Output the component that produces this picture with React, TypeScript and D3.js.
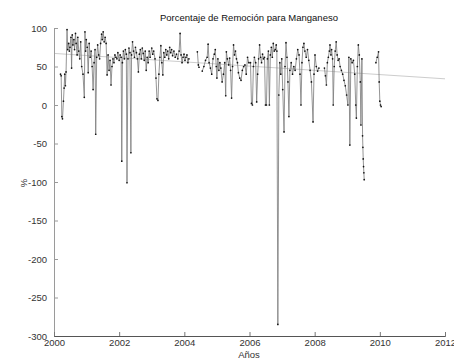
import * as d3 from "d3";
import { useEffect, useRef } from "react";

// decimal year of each sample, NaN-style gaps are null values
const years = [
  2000.20, 2000.22, 2000.24, 2000.26, 2000.29, 2000.31, 2000.33, 2000.35, 2000.37, 2000.40,
  2000.42, 2000.45, 2000.47, 2000.49, 2000.52, 2000.54, 2000.56, 2000.58, 2000.61, 2000.63,
  2000.66, 2000.68, 2000.71, 2000.73, 2000.76, 2000.79, 2000.82, 2000.85, 2000.89, 2000.93,
  2000.95, 2000.97, 2000.99,
  2001.02, 2001.05, 2001.08, 2001.11, 2001.14, 2001.17, 2001.20, 2001.23, 2001.26, 2001.28,
  2001.31, 2001.34, 2001.37, 2001.40, 2001.43, 2001.46, 2001.48, 2001.51, 2001.54, 2001.57,
  2001.60, 2001.63, 2001.66, 2001.69, 2001.72, 2001.75, 2001.78, 2001.81, 2001.84, 2001.87,
  2001.90, 2001.93, 2001.96,
  2002.00, 2002.03, 2002.06, 2002.08, 2002.10, 2002.13, 2002.16, 2002.19, 2002.22, 2002.24,
  2002.27, 2002.30, 2002.33, 2002.36, 2002.38, 2002.41, 2002.44, 2002.47, 2002.50, 2002.53,
  2002.56, 2002.59, 2002.62, 2002.65, 2002.68, 2002.71, 2002.74, 2002.77, 2002.80, 2002.83,
  2002.86, 2002.89, 2002.92, 2002.95,
  2003.00, 2003.03, 2003.06, 2003.10, 2003.13, 2003.16, 2003.19, 2003.22, 2003.25, 2003.28,
  2003.31, 2003.34, 2003.37, 2003.40, 2003.43, 2003.46, 2003.49, 2003.52, 2003.55, 2003.58,
  2003.61, 2003.64, 2003.68, 2003.72, 2003.76, 2003.80, 2003.84, 2003.87, 2003.90, 2003.93,
  2003.96, 2003.99,
  2004.02, 2004.05, 2004.08, 2004.11, 2004.14, 2004.27, 2004.40, 2004.43, 2004.45, 2004.50,
  2004.55, 2004.60, 2004.65, 2004.70, 2004.73, 2004.76, 2004.80, 2004.84, 2004.88, 2004.92,
  2004.95, 2004.98,
  2005.00, 2005.03, 2005.06, 2005.09, 2005.12, 2005.16, 2005.20, 2005.24, 2005.27, 2005.29,
  2005.32, 2005.36, 2005.39, 2005.42, 2005.45, 2005.48, 2005.51, 2005.54, 2005.57, 2005.60,
  2005.63, 2005.66, 2005.70, 2005.74, 2005.78, 2005.82, 2005.86, 2005.90, 2005.94, 2005.98,
  2006.03, 2006.06, 2006.09, 2006.12, 2006.15, 2006.19, 2006.22, 2006.25, 2006.28, 2006.31,
  2006.34, 2006.37, 2006.40, 2006.43, 2006.46, 2006.49, 2006.52, 2006.55, 2006.58, 2006.61,
  2006.64, 2006.67, 2006.70, 2006.73, 2006.76, 2006.79, 2006.82, 2006.84, 2006.87, 2006.90,
  2006.93, 2006.96, 2006.99,
  2007.02, 2007.06, 2007.09, 2007.12, 2007.15, 2007.18, 2007.21, 2007.24, 2007.28, 2007.32,
  2007.36, 2007.40, 2007.44, 2007.48, 2007.52, 2007.55, 2007.58, 2007.61, 2007.64, 2007.67,
  2007.70, 2007.74, 2007.78, 2007.82, 2007.86, 2007.90, 2007.95, 2007.98,
  2008.01, 2008.05, 2008.09, 2008.13, 2008.20, 2008.30, 2008.33, 2008.36, 2008.39, 2008.42,
  2008.45, 2008.47, 2008.50, 2008.52, 2008.55, 2008.57, 2008.60, 2008.63, 2008.66, 2008.69,
  2008.72, 2008.75, 2008.78, 2008.82, 2008.86, 2008.90, 2008.94, 2008.98,
  2009.02, 2009.05, 2009.08, 2009.11, 2009.15, 2009.19, 2009.23, 2009.26, 2009.28, 2009.31,
  2009.34, 2009.37, 2009.40, 2009.42, 2009.45, 2009.47, 2009.48, 2009.49, 2009.50, 2009.51,
  2009.52, 2009.70, 2009.88, 2009.92, 2009.96, 2009.98,
  2010.00, 2010.02, 2010.04,
];

const removal: (number | null)[] = [
  40, 38, -15, -18, 5, 22, 40, 25, 43, 98,
  72, 80, 70, 75, 88, 48, 91, 78, 85, 72,
  93, 80, 65, 88, 70, 60, 82, 50, 40, 10,
  95, 70, 85,
  75, 42, 80, 62, 70, 50, 20, 55, 72, -38,
  62, 78, 65, 60, 80, 92, 85, 95, 82, 88,
  80, 39, 65, 45, 58, 26, 50, 60, 55, 65,
  62, 60, 68,
  58, 65, 62, -73, 55, 70, 60, 72, 66, -101,
  60, 74, 68, -62, 65, 82, 70, 62, 75, 68,
  60, 43, 66, 72, 60, 74, 67, 58, 70, 45,
  62, 55, 70, 62,
  74, 66, 70, 60, 35, 8, 6, 40, 62, 77,
  55, 39, 68, 62, 72, 65, 70, 60, 75, 68,
  72, 64, 70, 62, 66, 60, 70, 93, 65, 55,
  62, 66,
  58, 62, 65, 55, 60, null, 69, 52, 49, null,
  44, 50, 58, 62, 79, 55, 48, 40, 60, 66,
  72, 50,
  35, 60, 45, 55, 48, 30, 40, 55, 12, 69,
  60, 52, 61, 45, 9, 50, 78, 65, 70, 60,
  55, 42, 35, 32, 45, 50, 52, 40, 62, 55,
  55, 2, 0, 50, 62, 55, 4, 40, 60, 78,
  62, 55, 66, 60, 62, 0, 0, 60, 70, 0,
  65, 75, 62, 80, 70, 72, 78, 70, -285, 13,
  55, 40, 60,
  20, -35, 50, 81, 62, 30, -15, 45, 55, 40,
  50, 45, 60, 72, 65, 40, 0, 55, 75, 80,
  70, 62, 72, 58, 45, 30, -22, 40,
  65, 50, 44, 48, null, 48, 38, 26, 55, 62,
  70, 78, 65, 72, 60, 0, 50, 70, 82, 65,
  58, 60, 50, 45, 40, 32, 25, 13,
  0, 62, -52, 60, 55, 58, 40, 0, -17, 50,
  78, 65, 30, -26, 60, -40, -55, -70, -80, -88,
  -97, null, 55, 62, 69, 30,
  5, 0, -2,
];

// linear fit shown in light grey
const trendYears = [2000, 2012];
const trendValues = [67, 34];

const xTicks = [2000, 2002, 2004, 2006, 2008, 2010, 2012];
const yTicks = [100, 50, 0, -50, -100, -150, -200, -250, -300];

const W = 454;
const H = 360;
const FONT = "'Liberation Sans', Arial, sans-serif";

export default function App() {
  const svgRef = useRef<SVGSVGElement>(null);

  useEffect(() => {
    if (!svgRef.current) return;
    const svg = d3.select(svgRef.current);
    svg.selectAll("*").remove();

    const x = d3.scaleLinear().domain([2000, 2012]).range([54, 445]);
    const y = d3.scaleLinear().domain([-300, 100]).range([336, 28]);

    const pts = years.map((t, i) => ({ t, v: removal[i] }));

    // trend line
    const trend = trendYears.map((t, i) => ({ t, v: trendValues[i] }));
    svg
      .append("path")
      .attr(
        "d",
        d3
          .line<{ t: number; v: number }>()
          .x((d) => x(d.t))
          .y((d) => y(d.v))(trend)
      )
      .attr("fill", "none")
      .attr("stroke", "#cdcdcd")
      .attr("stroke-width", 1);

    // series
    const line = d3
      .line<{ t: number; v: number | null }>()
      .defined((d) => d.v != null)
      .x((d) => x(d.t))
      .y((d) => y(d.v as number));

    svg
      .append("path")
      .attr("d", line(pts))
      .attr("fill", "none")
      .attr("stroke", "#7a7a7a")
      .attr("stroke-width", 0.8);

    svg
      .append("g")
      .selectAll("circle")
      .data(pts.filter((d) => d.v != null))
      .enter()
      .append("circle")
      .attr("cx", (d) => x(d.t))
      .attr("cy", (d) => y(d.v as number))
      .attr("r", 0.85)
      .attr("fill", "#111");

    // axes, ticks pointing inward like matlab
    const yAxis = d3
      .axisLeft(y)
      .tickValues(yTicks)
      .tickSize(-4)
      .tickPadding(7)
      .tickFormat((d) => String(d));
    const gy = svg.append("g").attr("transform", `translate(${x(2000)},0)`).call(yAxis);
    gy.select(".domain").attr("stroke", "#9a9a9a");
    gy.selectAll(".tick line").attr("stroke", "#9a9a9a");

    const xAxis = d3
      .axisBottom(x)
      .tickValues(xTicks)
      .tickSize(-4)
      .tickPadding(3)
      .tickFormat((d) => String(d));
    const gx = svg.append("g").attr("transform", `translate(0,${y(-300)})`).call(xAxis);
    gx.select(".domain").attr("stroke", "#555");
    gx.selectAll(".tick line").attr("stroke", "#777");

    svg
      .selectAll(".tick text")
      .attr("fill", "#333")
      .attr("font-size", 9.5)
      .attr("font-family", FONT);

    svg
      .append("text")
      .attr("x", 249)
      .attr("y", 21)
      .attr("text-anchor", "middle")
      .attr("font-size", 9.5)
      .attr("font-family", FONT)
      .attr("fill", "#111")
      .text("Porcentaje de Remoción para Manganeso");

    svg
      .append("text")
      .attr("x", 249)
      .attr("y", 358)
      .attr("text-anchor", "middle")
      .attr("font-size", 9.5)
      .attr("font-family", FONT)
      .attr("fill", "#333")
      .text("Años");

    svg
      .append("text")
      .attr("transform", "translate(27,183) rotate(-90)")
      .attr("text-anchor", "middle")
      .attr("font-size", 9.5)
      .attr("font-family", FONT)
      .attr("fill", "#333")
      .text("%");
  }, []);

  return (
    <svg
      ref={svgRef}
      width={W}
      height={H}
      style={{ position: "absolute", left: 0, top: 0, background: "#fff" }}
    />
  );
}
